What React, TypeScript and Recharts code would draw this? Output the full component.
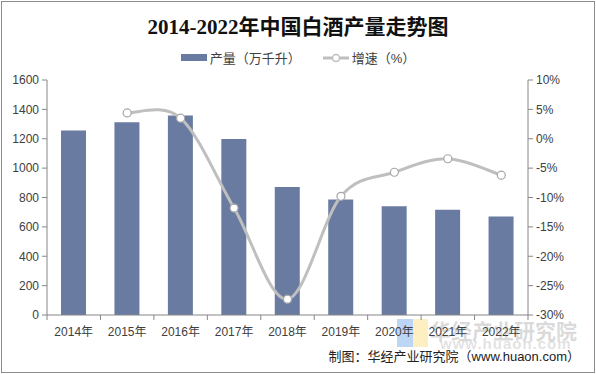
import { ComposedChart, Bar, Line, XAxis, YAxis } from 'recharts';

const years = ['2014年', '2015年', '2016年', '2017年', '2018年', '2019年', '2020年', '2021年', '2022年'];
const output = [1257, 1313, 1358, 1198, 871, 786, 741, 716, 671];
const growth = [null, 4.4, 3.5, -11.8, -27.3, -9.8, -5.7, -3.4, -6.2];
const leftTicks = [0, 200, 400, 600, 800, 1000, 1200, 1400, 1600];
const rightTicks = [-30, -25, -20, -15, -10, -5, 0, 5, 10];

const data = years.map((y, i) => ({ year: y, output: output[i], growth: growth[i] }));

const W = 596;
const H = 374;
const PLOT_LEFT = 47;
const PLOT_RIGHT = 528;
const PLOT_TOP = 80;
const PLOT_BOTTOM = 315;
const BAND = (PLOT_RIGHT - PLOT_LEFT) / years.length;

const BAR_COLOR = '#6A7BA2';
const LINE_COLOR = '#BFBFBF';
const AXIS_COLOR = '#868686';
const TEXT_COLOR = '#404040';
const FONT = "'Liberation Sans', Arial, 'Noto Sans CJK SC', sans-serif";

// Excel-like smoothed line (Catmull-Rom through the points)
function smoothCurve(context: any) {
  let pts: number[][] = [];
  return {
    areaStart() {},
    areaEnd() {},
    lineStart() { pts = []; },
    point(x: number, y: number) { pts.push([+x, +y]); },
    lineEnd() {
      if (!pts.length) return;
      context.moveTo(pts[0][0], pts[0][1]);
      for (let i = 0; i < pts.length - 1; i++) {
        const p0 = pts[i - 1] || pts[i];
        const p1 = pts[i];
        const p2 = pts[i + 1];
        const p3 = pts[i + 2] || p2;
        context.bezierCurveTo(
          p1[0] + (p2[0] - p0[0]) / 6, p1[1] + (p2[1] - p0[1]) / 6,
          p2[0] - (p3[0] - p1[0]) / 6, p2[1] - (p3[1] - p1[1]) / 6,
          p2[0], p2[1]
        );
      }
    },
  };
}

function XTick(props: any) {
  const { x, payload, index } = props;
  const left = x - BAND / 2;
  return (
    <g>
      <line x1={left} y1={PLOT_BOTTOM} x2={left} y2={PLOT_BOTTOM + 5} stroke={AXIS_COLOR} />
      {index === years.length - 1 && (
        <line x1={x + BAND / 2} y1={PLOT_BOTTOM} x2={x + BAND / 2} y2={PLOT_BOTTOM + 5} stroke={AXIS_COLOR} />
      )}
      <text x={x} y={PLOT_BOTTOM + 21} textAnchor="middle" fontSize={12} fill={TEXT_COLOR} fontFamily={FONT}>
        {payload.value}
      </text>
    </g>
  );
}

export default function App() {
  return (
    <div style={{ position: 'fixed', left: 0, top: 0, width: W, height: H, background: '#fff', fontFamily: FONT }}>
      <div style={{ position: 'absolute', left: 1, top: 1, width: W - 4, height: H - 4, border: '1px solid #8C8C8C' }} />
      <div style={{ position: 'absolute', left: 0, top: 10, width: W, textAlign: 'center', fontSize: 21, fontWeight: 'bold', color: '#111', fontFamily: "'Liberation Serif', 'Noto Sans CJK SC', serif" }}>
        2014-2022年中国白酒产量走势图
      </div>
      <div style={{ position: 'absolute', left: 0, top: 48, width: W, display: 'flex', justifyContent: 'center', alignItems: 'center', fontSize: 13, color: TEXT_COLOR }}>
        <span style={{ display: 'inline-block', width: 26, height: 7, background: BAR_COLOR, marginRight: 3 }} />
        <span>产量（万千升）</span>
        <svg width={26} height={10} style={{ marginLeft: 22, marginRight: 3 }}>
          <line x1={0} y1={5} x2={26} y2={5} stroke={LINE_COLOR} strokeWidth={3} />
          <circle cx={13} cy={5} r={3.5} fill="#fff" stroke={LINE_COLOR} strokeWidth={1.5} />
        </svg>
        <span>增速（%）</span>
      </div>
      {/* watermark */}
      <div style={{ position: 'absolute', left: 397, top: 319, width: 16, height: 28, background: 'rgba(110,165,235,0.45)' }} />
      <div style={{ position: 'absolute', left: 413, top: 319, width: 15, height: 28, background: 'rgba(250,220,120,0.45)' }} />
      <div style={{ position: 'absolute', left: 430, top: 315, fontSize: 21, fontWeight: 'bold', color: 'rgba(150,150,150,0.35)' }}>华经产业研究院</div>
      <div style={{ position: 'absolute', left: 440, top: 335, fontSize: 15, fontWeight: 'bold', letterSpacing: 1, color: 'rgba(150,150,150,0.28)' }}>www.huaon.com</div>
      <div style={{ position: 'absolute', right: 16, top: 346, fontSize: 13, color: '#222' }}>
        制图：华经产业研究院（www.huaon.com）
      </div>
      <div style={{ position: 'absolute', left: 0, top: 0 }}>
        <ComposedChart
          width={W}
          height={H}
          data={data}
          margin={{ top: PLOT_TOP, right: 0, bottom: H - PLOT_BOTTOM - 25, left: 0 }}
        >
          <XAxis
            dataKey="year"
            height={25}
            tick={<XTick />}
            tickLine={false}
            axisLine={{ stroke: AXIS_COLOR }}
            interval={0}
          />
          <YAxis
            yAxisId="left"
            width={PLOT_LEFT}
            domain={[0, 1600]}
            ticks={leftTicks}
            interval={0}
            tickSize={5}
            tickMargin={3}
            tick={{ fontSize: 12, fill: TEXT_COLOR, fontFamily: FONT }}
            tickLine={{ stroke: AXIS_COLOR }}
            axisLine={{ stroke: AXIS_COLOR }}
          />
          <YAxis
            yAxisId="right"
            orientation="right"
            width={W - PLOT_RIGHT}
            domain={[-30, 10]}
            ticks={rightTicks}
            interval={0}
            tickSize={5}
            tickMargin={3}
            tickFormatter={(v: number) => `${v}%`}
            tick={{ fontSize: 12, fill: TEXT_COLOR, fontFamily: FONT, textAnchor: 'start' }}
            tickLine={{ stroke: AXIS_COLOR }}
            axisLine={{ stroke: AXIS_COLOR }}
          />
          <Bar yAxisId="left" dataKey="output" fill={BAR_COLOR} barSize={25} isAnimationActive={false} />
          <Line
            yAxisId="right"
            dataKey="growth"
            type={smoothCurve as any}
            stroke={LINE_COLOR}
            strokeWidth={3}
            dot={{ r: 4, fill: '#fff', stroke: '#A6A6A6', strokeWidth: 1.2 }}
            connectNulls={false}
            isAnimationActive={false}
          />
        </ComposedChart>
      </div>
    </div>
  );
}
